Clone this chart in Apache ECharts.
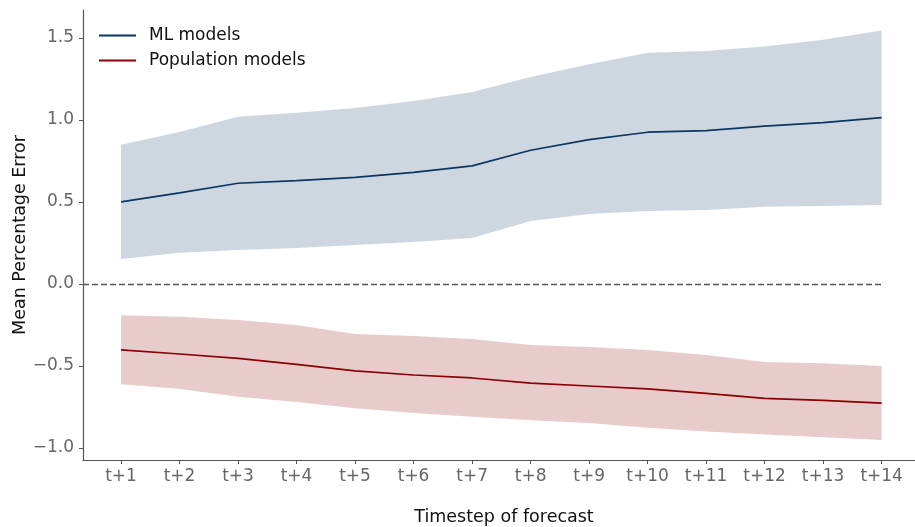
<!DOCTYPE html>
<html>
<head>
<meta charset="utf-8">
<script src="https://cdn.jsdelivr.net/npm/echarts@6/dist/echarts.min.js"></script>
<style>
  html, body { margin: 0; padding: 0; background: #fff; }
  #chart { width: 915px; height: 527px; }
</style>
</head>
<body>
<div id="chart"></div>
<script>
// forecast steps (x positions are 1..14)
const steps = ['t+1', 't+2', 't+3', 't+4', 't+5', 't+6', 't+7', 't+8', 't+9', 't+10', 't+11', 't+12', 't+13', 't+14']
const yTicks = [-1, -0.5, 0, 0.5, 1, 1.5]

// ML models: mean and band
const mlMean = [0.50, 0.555, 0.614, 0.63, 0.65, 0.68, 0.72, 0.815, 0.88, 0.925, 0.935, 0.962, 0.984, 1.014]
const mlUpper = [0.848, 0.927, 1.02, 1.043, 1.073, 1.116, 1.17, 1.262, 1.34, 1.41, 1.42, 1.447, 1.488, 1.545]
const mlLower = [0.152, 0.19, 0.207, 0.22, 0.238, 0.256, 0.28, 0.384, 0.427, 0.445, 0.451, 0.471, 0.476, 0.482]

// Population models: mean and band
const popMean = [-0.402, -0.427, -0.453, -0.49, -0.53, -0.555, -0.573, -0.604, -0.622, -0.64, -0.667, -0.697, -0.71, -0.726]
const popUpper = [-0.191, -0.2, -0.22, -0.25, -0.305, -0.317, -0.335, -0.372, -0.384, -0.402, -0.433, -0.476, -0.484, -0.5]
const popLower = [-0.612, -0.64, -0.687, -0.72, -0.758, -0.787, -0.81, -0.83, -0.848, -0.876, -0.9, -0.917, -0.935, -0.951]

const mlColor = '#0a3665'
const popColor = '#8b0000'
const font = 'DejaVu Sans'

const pts = arr => arr.map((v, i) => [i + 1, v])
const bandRows = (lo, hi) => lo.map((v, i) => [i + 1, v, hi[i]])

// one polygon for the whole band, placed through the axis scales
function bandSeries(name, lo, hi, color) {
  return {
    name: name,
    type: 'custom',
    silent: true,
    data: bandRows(lo, hi),
    encode: { x: 0, y: [1, 2] },
    renderItem: (params, api) => {
      if (params.dataIndex !== 0) return
      const top = hi.map((v, i) => api.coord([i + 1, v]))
      const bottom = lo.map((v, i) => api.coord([i + 1, v])).reverse()
      return {
        type: 'polygon',
        shape: { points: top.concat(bottom) },
        style: { fill: color, opacity: 0.2 }
      }
    }
  }
}

const chart = echarts.init(document.getElementById('chart'))
chart.setOption({
  animation: false,
  textStyle: { fontFamily: font },
  grid: { left: 83, right: 0, top: 10, bottom: 67, containLabel: false, outerBoundsMode: 'none' },
  legend: {
    data: ['ML models', 'Population models'],
    orient: 'vertical',
    left: 99,
    top: 27,
    padding: 0,
    icon: 'rect',
    itemWidth: 37,
    itemHeight: 2,
    itemGap: 8,
    textStyle: { fontFamily: font, fontSize: 17, color: '#111', padding: [0, 0, 0, 8] }
  },
  xAxis: {
    type: 'value',
    min: 0.35,
    max: 14.57,
    name: 'Timestep of forecast',
    nameLocation: 'middle',
    nameGap: 48,
    nameTextStyle: { fontFamily: font, fontSize: 17.5, color: '#111', padding: [0, 0, 0, 10] },
    axisLine: { onZero: false, lineStyle: { color: '#555', width: 1.2 } },
    axisTick: { show: true, length: 4, customValues: steps.map((s, i) => i + 1), lineStyle: { color: '#555' } },
    axisLabel: {
      customValues: steps.map((s, i) => i + 1),
      formatter: v => steps[Math.round(v) - 1],
      fontFamily: font, fontSize: 17, color: '#666', margin: 8
    },
    splitLine: { show: false }
  },
  yAxis: {
    type: 'value',
    min: -1.073,
    max: 1.67,
    name: 'Mean Percentage Error',
    nameLocation: 'middle',
    nameGap: 54,
    nameMoveOverlap: false,
    nameTextStyle: { fontFamily: font, fontSize: 17.5, color: '#111' },
    axisLine: { show: true, onZero: false, lineStyle: { color: '#555', width: 1.2 } },
    axisTick: { show: true, length: 4, customValues: yTicks, lineStyle: { color: '#555' } },
    axisLabel: {
      customValues: yTicks,
      formatter: v => v.toFixed(1).replace('-', '\u2212'),
      fontFamily: font, fontSize: 17, color: '#666', margin: 9
    },
    splitLine: { show: false }
  },
  series: [
    bandSeries('mlBand', mlLower, mlUpper, mlColor),
    bandSeries('popBand', popLower, popUpper, popColor),
    {
      name: 'ML models', type: 'line', data: pts(mlMean), symbol: 'none',
      itemStyle: { color: mlColor }, lineStyle: { color: mlColor, width: 1.7 },
      markLine: {
        silent: true, symbol: 'none', label: { show: false },
        lineStyle: { color: '#555', type: [6, 3], width: 1.3 },
        data: [[{ coord: [0.35, 0] }, { coord: [14, 0] }]]
      }
    },
    {
      name: 'Population models', type: 'line', data: pts(popMean), symbol: 'none',
      itemStyle: { color: popColor }, lineStyle: { color: popColor, width: 1.7 }
    }
  ]
})
</script>
</body>
</html>
